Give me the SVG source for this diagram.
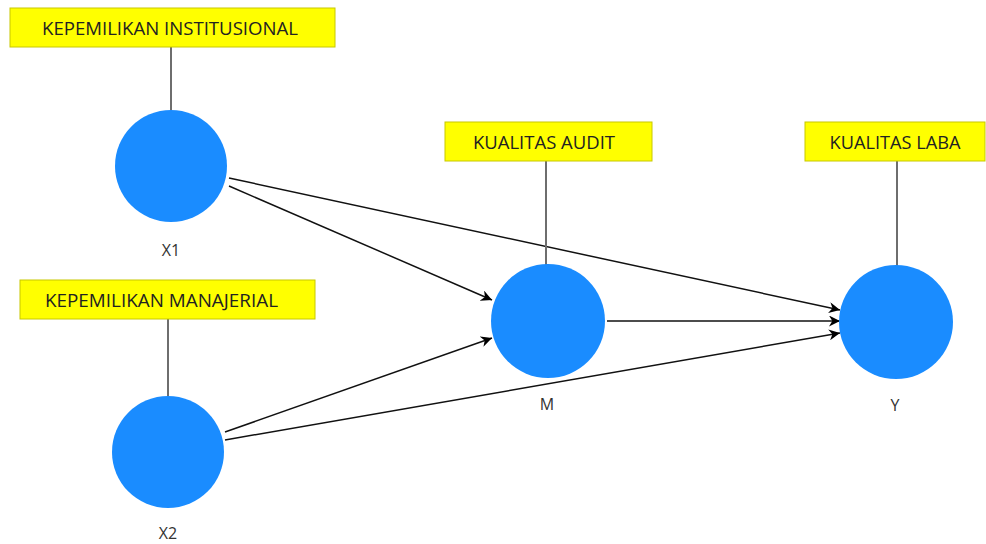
<svg xmlns="http://www.w3.org/2000/svg" width="986" height="544" viewBox="0 0 986 544">
<defs>
<style>
.box{fill:#ffff00;stroke:#c8c800;stroke-width:1}
.btxt{font-family:"Open Sans","Noto Sans",sans-serif;font-size:18px;fill:#222;text-anchor:middle;dominant-baseline:central}
.lbl{font-family:"Open Sans","Noto Sans",sans-serif;font-size:16px;fill:#333;text-anchor:middle;dominant-baseline:central}
.lv{fill:#1a8cff}
.stem{stroke:#6e6e6e;stroke-width:2}
.arr{stroke:#111;stroke-width:1.5;fill:none;marker-end:url(#ah)}
</style>
<marker id="ah" viewBox="0 0 10 10" refX="10" refY="5" markerWidth="11" markerHeight="11" markerUnits="userSpaceOnUse" orient="auto">
<path d="M0,0 L10,5 L0,10 L3,5 z" fill="#000"/>
</marker>
</defs>
<rect width="986" height="544" fill="#fff"/>
<g id="connectors">
<line class="arr" x1="229" y1="186" x2="492" y2="300"/>
<line class="arr" x1="229" y1="178" x2="840" y2="310"/>
<line class="arr" x1="607" y1="321" x2="840" y2="321"/>
<line class="arr" x1="225" y1="432" x2="492" y2="338"/>
<line class="arr" x1="225" y1="440" x2="840" y2="333"/>
</g>
<g id="node-X1">
<line class="stem" x1="171" y1="47" x2="171" y2="112"/>
<rect class="box" x="10" y="8" width="325" height="39"/>
<text class="btxt" x="170" y="28" textLength="256" lengthAdjust="spacingAndGlyphs">KEPEMILIKAN INSTITUSIONAL</text>
<circle class="lv" cx="171" cy="166" r="56"/>
<text class="lbl" x="171" y="250">X1</text>
</g>
<g id="node-X2">
<line class="stem" x1="168" y1="319" x2="168" y2="398"/>
<rect class="box" x="20" y="280" width="295" height="39"/>
<text class="btxt" x="161.5" y="300" textLength="233" lengthAdjust="spacingAndGlyphs">KEPEMILIKAN MANAJERIAL</text>
<circle class="lv" cx="168" cy="452" r="56"/>
<text class="lbl" x="168" y="533">X2</text>
</g>
<g id="node-M">
<line class="stem" x1="546" y1="161" x2="546" y2="267"/>
<rect class="box" x="445" y="122" width="207" height="39"/>
<text class="btxt" x="544" y="142" textLength="142" lengthAdjust="spacingAndGlyphs">KUALITAS AUDIT</text>
<circle class="lv" cx="548" cy="321" r="57"/>
<text class="lbl" x="547" y="404">M</text>
</g>
<g id="node-Y">
<line class="stem" x1="897" y1="161" x2="897" y2="268"/>
<rect class="box" x="805" y="122" width="180" height="39"/>
<text class="btxt" x="895" y="142" textLength="131" lengthAdjust="spacingAndGlyphs">KUALITAS LABA</text>
<circle class="lv" cx="896" cy="322" r="57"/>
<text class="lbl" x="895" y="405">Y</text>
</g>
</svg>
